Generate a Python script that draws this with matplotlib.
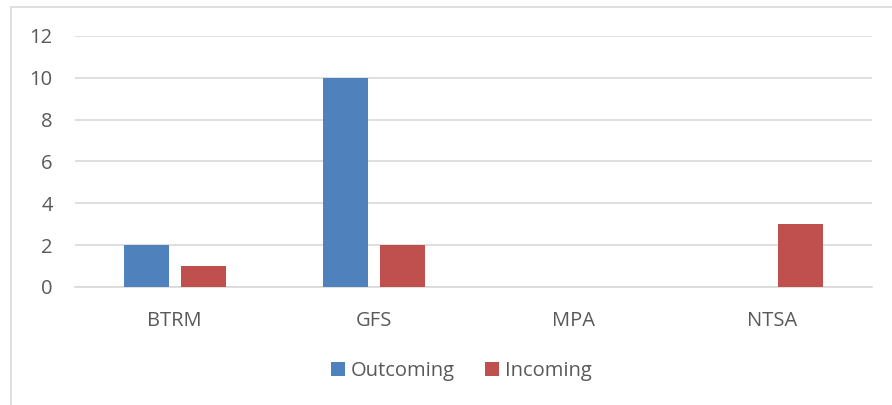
import matplotlib.pyplot as plt
import matplotlib.patches as mpatches
import numpy as np

categories = ["BTRM", "GFS", "MPA", "NTSA"]
outcoming = [2, 10, 0, 0]
incoming = [1, 2, 0, 3]
yticks = [0, 2, 4, 6, 8, 10, 12]

plt.rcParams['font.family'] = ['Open Sans', 'DejaVu Sans']
txt = '#595959'
grid = '#D9D9D9'

fig = plt.figure(figsize=(8.92, 4.05), dpi=100)
fig.patches.append(mpatches.Rectangle((11 / 892, -0.2), 2, 1.2 - 7 / 405,
                                      transform=fig.transFigure, fill=False,
                                      edgecolor=grid, linewidth=1.2))
ax = fig.add_axes([75 / 892, 1 - 287 / 405, (872 - 75) / 892, (287 - 36) / 405])

x = np.arange(len(categories))
w = 0.226
off = 0.143
ax.bar(x - off, outcoming, width=w, color='#4F81BD', label='Outcoming', zorder=3)
ax.bar(x + off, incoming, width=w, color='#C0504D', label='Incoming', zorder=3)

ax.set_xlim(-0.5, len(categories) - 0.5)
ax.set_ylim(0, 12)
ax.set_yticks(yticks)
ax.set_xticks(x)
ax.set_xticklabels(categories)
ax.yaxis.grid(True, color=grid, linewidth=1.2, zorder=0)
ax.set_axisbelow(True)
for s in ['top', 'right', 'left']:
    ax.spines[s].set_visible(False)
ax.spines['bottom'].set_color(grid)
ax.spines['bottom'].set_linewidth(1.2)
ax.tick_params(axis='both', length=0, colors=txt, labelsize=14.5)
ax.tick_params(axis='y', pad=16)
ax.tick_params(axis='x', pad=17)

ax.legend(loc='center', bbox_to_anchor=(0.485, -0.335), ncol=2, frameon=False,
          fontsize=14.5, labelcolor=txt, handlelength=0.7, handleheight=0.7,
          handletextpad=0.3, columnspacing=1.5)

fig.savefig('out.png', dpi=100)
